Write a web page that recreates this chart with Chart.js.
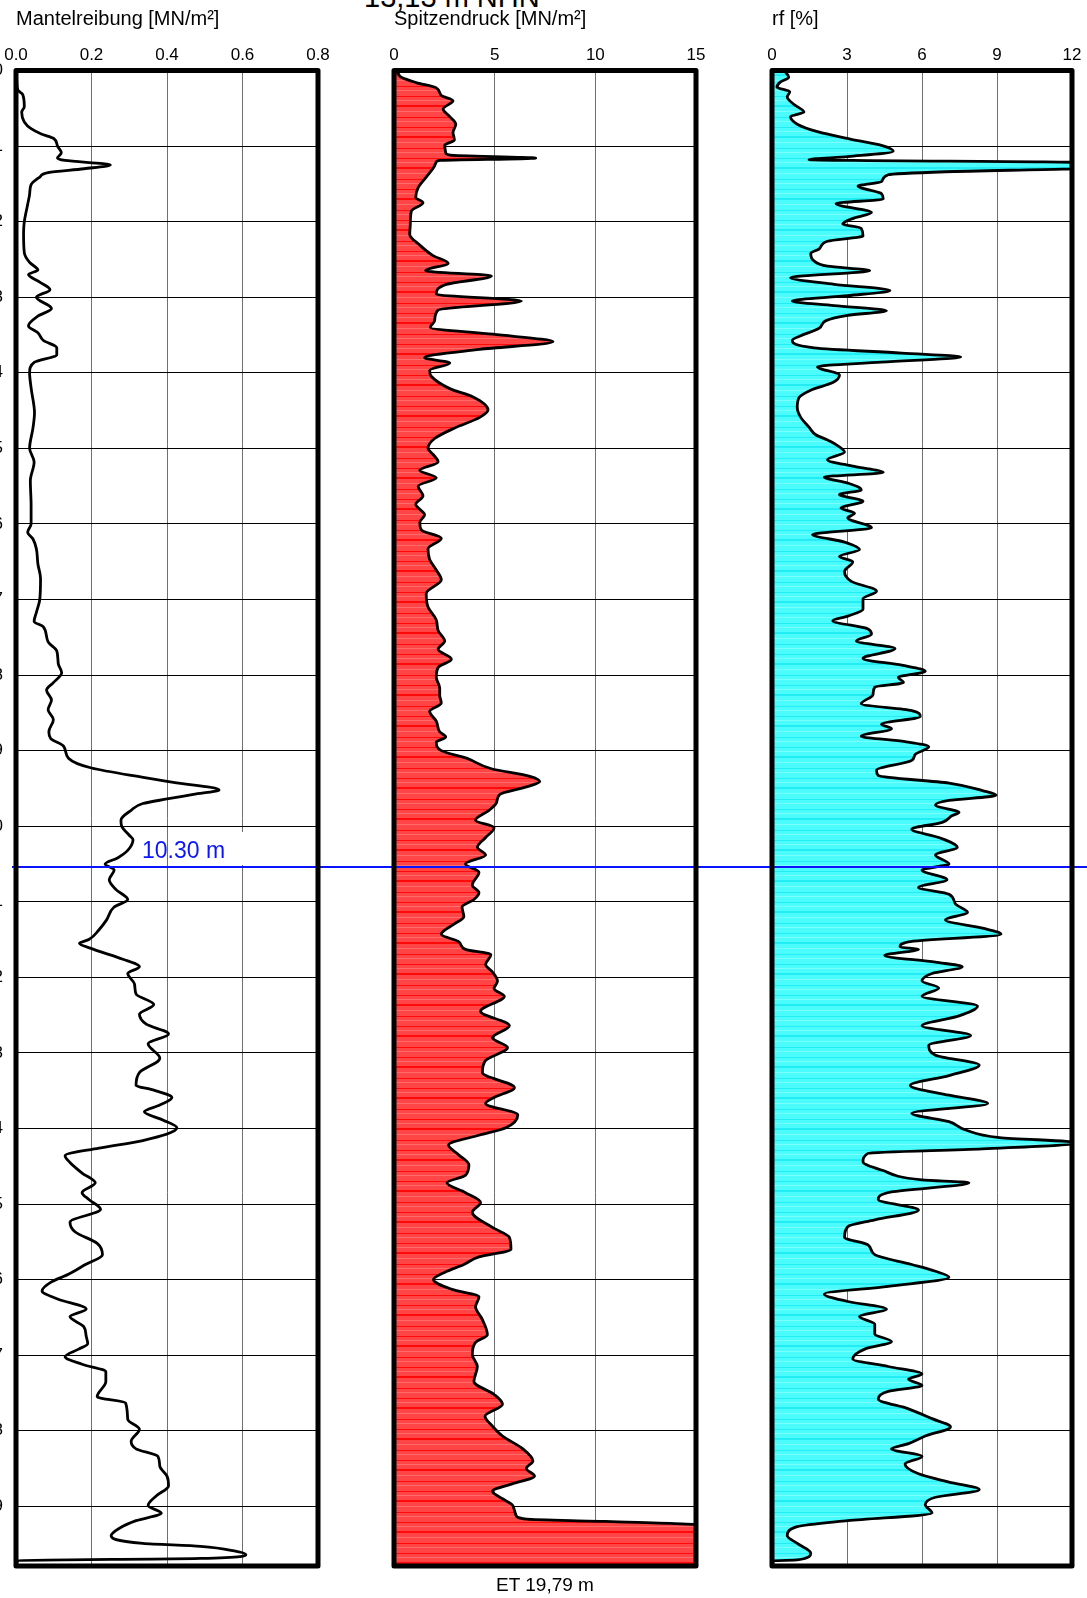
<!DOCTYPE html>
<html>
<head>
<meta charset="utf-8">
<title>Drucksondierung</title>
<script src="https://cdn.jsdelivr.net/npm/chart.js@4.4.1/dist/chart.umd.min.js"></script>
<style>
  body { margin: 0; background: #fff; width: 1087px; height: 1598px; overflow: hidden; position: relative;
         font-family: Arial, "Liberation Sans", sans-serif; }
  canvas { position: absolute; top: 0; }
  .head { position: absolute; left: 364px; top: -17px; font-size: 29px; line-height: 29px; white-space: nowrap; }
  .foot { position: absolute; left: 445px; width: 200px; top: 1574px; font-size: 19px; line-height: 22px; text-align: center; }
</style>
</head>
<body>
<div class="head">13,13 m NHN</div>
<canvas id="mantel" width="378" height="1598" style="left:-34px;width:378px;height:1598px"></canvas>
<canvas id="spitze" width="378" height="1598" style="left:344px;width:378px;height:1598px"></canvas>
<canvas id="rf" width="365" height="1598" style="left:722px;width:365px;height:1598px"></canvas>
<div class="foot">ET 19,79 m</div>

<script>
// Depth axis (m below top)
const maxDepth = 19.79;
const depthTicks = [0, 1, 2, 3, 4, 5, 6, 7, 8, 9, 10, 11, 12, 13, 14, 15, 16, 17, 18, 19];
const markerDepth = 10.54;
const markerLabel = '10.30 m';

// Mantelreibung [MN/m²]
const mantelTicks = [0, 0.2, 0.4, 0.6, 0.8];
const mantelDepth = [
  0, 0.15, 0.26, 0.32, 0.48, 0.55, 0.68, 0.77, 0.84, 0.9, 1.0, 1.09, 1.16, 1.19, 1.25, 1.3, 1.35, 1.41, 1.51, 1.64,
  1.77, 2.0, 2.15, 2.41, 2.54, 2.64, 2.7, 2.8, 2.9, 3.0, 3.15, 3.25, 3.38, 3.47, 3.57, 3.67, 3.76, 3.86, 4.0, 4.2,
  4.53, 4.73, 5.0, 5.18, 5.43, 5.75, 6.0, 6.11, 6.2, 6.33, 6.53, 6.72, 7.0, 7.17, 7.29, 7.36, 7.56, 7.68, 7.85, 7.97,
  8.1, 8.2, 8.33, 8.46, 8.59, 8.75, 8.84, 8.94, 9.1, 9.23, 9.36, 9.42, 9.52, 9.58, 9.64, 9.7, 9.79, 9.92, 10.0, 10.12,
  10.18, 10.32, 10.42, 10.5, 10.58, 10.71, 10.84, 10.97, 11.07, 11.24, 11.37, 11.5, 11.55, 11.63, 11.76, 11.86, 11.95, 12.09, 12.22, 12.36,
  12.49, 12.62, 12.75, 12.88, 13.07, 13.26, 13.43, 13.49, 13.59, 13.69, 13.78, 13.89, 13.99, 14.16, 14.26, 14.36, 14.45, 14.59, 14.72, 14.85,
  14.94, 15.07, 15.24, 15.37, 15.52, 15.67, 15.8, 15.93, 16.03, 16.15, 16.26, 16.39, 16.49, 16.62, 16.75, 16.85, 16.92, 17.02, 17.12, 17.22,
  17.35, 17.55, 17.63, 17.85, 17.98, 18.14, 18.24, 18.34, 18.47, 18.6, 18.73, 18.86, 18.99, 19.09, 19.19, 19.29, 19.39, 19.49, 19.53, 19.59,
  19.64, 19.69, 19.72, 19.79
];
const mantelValues = [
  0, 0.002, 0.005, 0.018, 0.022, 0.015, 0.022, 0.04, 0.067, 0.1, 0.11, 0.12, 0.11, 0.13, 0.25, 0.18, 0.085, 0.063, 0.04, 0.036,
  0.031, 0.022, 0.02, 0.022, 0.036, 0.058, 0.033, 0.063, 0.09, 0.054, 0.094, 0.058, 0.033, 0.058, 0.072, 0.108, 0.108, 0.049, 0.036, 0.04,
  0.049, 0.045, 0.036, 0.048, 0.038, 0.04, 0.04, 0.031, 0.045, 0.054, 0.058, 0.065, 0.063, 0.054, 0.048, 0.072, 0.085, 0.108, 0.112, 0.121,
  0.099, 0.081, 0.094, 0.085, 0.099, 0.087, 0.092, 0.126, 0.139, 0.2, 0.345, 0.417, 0.538, 0.47, 0.4, 0.336, 0.305, 0.278, 0.28, 0.3,
  0.31, 0.296, 0.269, 0.236, 0.26, 0.247, 0.265, 0.296, 0.26, 0.24, 0.22, 0.193, 0.168, 0.206, 0.283, 0.327, 0.296, 0.314, 0.318, 0.365,
  0.327, 0.345, 0.404, 0.35, 0.381, 0.327, 0.318, 0.363, 0.413, 0.381, 0.34, 0.39, 0.426, 0.336, 0.22, 0.13, 0.143, 0.175, 0.21, 0.175,
  0.193, 0.224, 0.143, 0.157, 0.215, 0.229, 0.184, 0.139, 0.094, 0.069, 0.112, 0.186, 0.143, 0.179, 0.186, 0.19, 0.166, 0.13, 0.175, 0.238,
  0.238, 0.215, 0.29, 0.296, 0.327, 0.305, 0.318, 0.376, 0.381, 0.4, 0.404, 0.372, 0.35, 0.385, 0.318, 0.274, 0.252, 0.336, 0.489, 0.578,
  0.609, 0.489, 0.005, 0
];

// Spitzendruck [MN/m²]
const spitzeTicks = [0, 5, 10, 15];
const spitzeDepth = [
  0, 0.02, 0.09, 0.16, 0.23, 0.33, 0.4, 0.51, 0.61, 0.71, 0.82, 0.92, 0.99, 1.09, 1.12, 1.16, 1.19, 1.21, 1.27, 1.41,
  1.55, 1.68, 1.75, 1.86, 2.03, 2.17, 2.31, 2.45, 2.55, 2.65, 2.72, 2.83, 2.96, 3.05, 3.17, 3.31, 3.4, 3.49, 3.59, 3.69,
  3.8, 3.87, 3.97, 4.05, 4.21, 4.32, 4.49, 4.59, 4.73, 4.87, 5.0, 5.08, 5.18, 5.29, 5.39, 5.5, 5.63, 5.74, 5.88, 5.98,
  6.08, 6.19, 6.33, 6.47, 6.61, 6.74, 6.92, 7.1, 7.27, 7.41, 7.55, 7.66, 7.79, 7.9, 8.03, 8.17, 8.27, 8.37, 8.48, 8.61,
  8.75, 8.82, 8.89, 9.0, 9.1, 9.24, 9.34, 9.41, 9.48, 9.58, 9.69, 9.79, 9.92, 10.02, 10.15, 10.28, 10.38, 10.5, 10.61, 10.78,
  10.88, 10.97, 11.07, 11.2, 11.3, 11.43, 11.53, 11.63, 11.7, 11.83, 11.93, 12.05, 12.15, 12.25, 12.45, 12.64, 12.8, 12.93, 13.1, 13.26,
  13.46, 13.59, 13.67, 13.82, 13.99, 14.09, 14.22, 14.35, 14.48, 14.62, 14.72, 14.85, 14.98, 15.11, 15.31, 15.44, 15.6, 15.7, 15.8, 15.9,
  16.0, 16.13, 16.23, 16.36, 16.53, 16.73, 16.83, 16.99, 17.15, 17.35, 17.52, 17.65, 17.81, 17.94, 18.07, 18.24, 18.4, 18.5, 18.6, 18.7,
  18.8, 18.9, 18.99, 19.12, 19.17, 19.2, 19.25, 19.79
];
const spitzeValues = [
  0, 0.15, 0.36, 1.1, 2.1, 2.35, 2.93, 2.44, 2.77, 3.07, 2.93, 3.0, 2.52, 2.57, 2.8, 7.04, 2.3, 2.1, 2.0, 1.6,
  1.2, 1.08, 1.44, 0.86, 0.81, 0.78, 1.28, 1.94, 2.69, 1.57, 4.84, 2.6, 2.1, 6.33, 2.19, 2.02, 1.8, 4.92, 7.9, 4.26,
  1.52, 2.77, 1.77, 1.86, 2.77, 3.93, 4.67, 4.26, 3.02, 2.02, 1.69, 1.94, 2.19, 1.28, 2.1, 1.2, 1.44, 1.08, 1.52, 1.28,
  1.36, 2.35, 1.69, 1.77, 2.1, 2.35, 1.6, 1.69, 2.1, 2.19, 2.52, 2.19, 2.85, 2.19, 2.1, 2.27, 2.27, 2.35, 1.77, 2.1,
  2.27, 2.57, 2.1, 2.35, 3.6, 4.84, 6.75, 7.24, 6.58, 5.25, 5.09, 4.72, 4.05, 4.97, 4.55, 4.14, 4.55, 3.55, 4.22, 3.89,
  4.22, 3.97, 3.38, 3.47, 2.96, 2.35, 3.22, 3.55, 4.81, 4.55, 4.89, 5.14, 4.97, 5.48, 4.3, 5.73, 4.89, 5.64, 4.55, 4.39,
  5.98, 4.97, 4.55, 6.15, 5.56, 4.22, 2.71, 3.22, 3.72, 3.55, 2.63, 3.55, 4.3, 3.89, 4.89, 5.73, 5.81, 4.22, 3.47, 2.55,
  1.96, 2.88, 4.22, 4.05, 4.39, 4.64, 4.05, 3.89, 4.14, 3.97, 4.97, 5.39, 4.52, 4.89, 5.39, 6.4, 6.9, 6.57, 6.98, 5.9,
  4.89, 5.39, 5.9, 6.06, 6.6, 10.5, 15.3, 15.3
];

// rf [%]
const rfTicks = [0, 3, 6, 9, 12];
const rfDepth = [
  0, 0.02, 0.09, 0.15, 0.22, 0.28, 0.35, 0.45, 0.55, 0.61, 0.71, 0.81, 0.91, 0.99, 1.07, 1.14, 1.18, 1.22, 1.29, 1.34,
  1.38, 1.47, 1.53, 1.63, 1.7, 1.76, 1.88, 1.95, 2.03, 2.09, 2.19, 2.26, 2.36, 2.42, 2.52, 2.59, 2.65, 2.74, 2.83, 2.91,
  2.98, 3.05, 3.11, 3.18, 3.24, 3.31, 3.41, 3.51, 3.57, 3.67, 3.74, 3.79, 3.86, 3.92, 4.03, 4.13, 4.23, 4.33, 4.46, 4.59,
  4.72, 4.82, 4.89, 4.95, 5.05, 5.15, 5.24, 5.32, 5.38, 5.46, 5.55, 5.61, 5.7, 5.79, 5.86, 5.92, 6.05, 6.14, 6.24, 6.34,
  6.43, 6.5, 6.63, 6.76, 6.89, 6.99, 7.13, 7.22, 7.28, 7.39, 7.46, 7.55, 7.65, 7.78, 7.87, 7.95, 8.03, 8.1, 8.16, 8.26,
  8.38, 8.47, 8.55, 8.65, 8.71, 8.81, 8.88, 8.95, 9.05, 9.13, 9.26, 9.33, 9.43, 9.53, 9.59, 9.66, 9.72, 9.82, 9.86, 9.95,
  10.04, 10.15, 10.28, 10.38, 10.5, 10.58, 10.71, 10.81, 10.9, 11.03, 11.14, 11.24, 11.35, 11.43, 11.53, 11.6, 11.63, 11.71, 11.8, 11.86,
  11.95, 12.05, 12.14, 12.25, 12.38, 12.51, 12.64, 12.77, 12.9, 13.03, 13.16, 13.3, 13.43, 13.56, 13.67, 13.8, 13.91, 14.02, 14.12, 14.19,
  14.27, 14.33, 14.44, 14.55, 14.68, 14.72, 14.84, 14.94, 15.08, 15.21, 15.3, 15.44, 15.54, 15.67, 15.8, 15.89, 15.97, 16.09, 16.19, 16.29,
  16.39, 16.49, 16.59, 16.72, 16.82, 16.92, 17.05, 17.15, 17.25, 17.32, 17.4, 17.48, 17.58, 17.71, 17.84, 17.95, 18.07, 18.17, 18.24, 18.34,
  18.44, 18.57, 18.68, 18.78, 18.88, 18.98, 19.09, 19.19, 19.27, 19.39, 19.49, 19.62, 19.71, 19.72, 19.79
];
const rfValues = [
  0.5, 0.54, 0.67, 0.34, 0.2, 0.71, 0.61, 0.88, 1.28, 0.74, 1.01, 1.82, 3.17, 4.38, 4.85, 3.03, 1.48, 12.6, 12.6, 6.94,
  4.65, 4.38, 3.44, 4.38, 4.45, 2.56, 3.98, 3.3, 2.83, 3.57, 3.64, 2.22, 1.89, 1.55, 1.68, 2.22, 3.91, 0.74, 2.49, 4.72,
  3.03, 0.81, 2.49, 4.58, 3.03, 2.16, 1.89, 1.15, 0.81, 1.68, 5.19, 7.55, 4.38, 1.82, 2.7, 2.43, 1.55, 1.08, 1.01, 1.15,
  1.48, 1.75, 2.22, 2.56, 2.9, 2.22, 3.3, 4.45, 2.09, 3.03, 3.57, 2.7, 3.64, 2.76, 3.3, 3.03, 3.98, 1.62, 2.9, 3.5,
  2.7, 3.23, 2.9, 3.17, 4.18, 3.64, 3.64, 3.03, 2.43, 3.84, 3.98, 3.37, 4.92, 3.64, 5.19, 6.13, 5.05, 5.26, 4.11, 4.04,
  3.57, 5.59, 5.93, 4.38, 4.78, 3.57, 5.32, 6.27, 5.73, 5.59, 4.18, 4.25, 7.08, 8.42, 8.96, 7.08, 6.54, 7.48, 7.21, 6.81,
  5.59, 6.67, 7.41, 6.54, 7.08, 6.0, 7.0, 5.86, 7.08, 7.34, 7.82, 6.94, 8.42, 9.16, 5.46, 5.12, 5.86, 4.51, 6.54, 7.61,
  6.4, 6.0, 6.67, 6.0, 8.22, 7.48, 6.0, 7.95, 6.27, 6.54, 8.29, 7.08, 5.53, 7.08, 8.63, 5.59, 7.08, 7.75, 9.1, 12.3,
  8.42, 3.84, 3.64, 4.38, 6.0, 7.88, 4.78, 4.25, 5.86, 4.11, 3.03, 2.9, 3.84, 4.11, 5.59, 6.54, 7.08, 4.65, 2.09, 3.03,
  4.58, 3.5, 4.11, 4.11, 4.78, 3.71, 3.23, 4.65, 6.0, 5.46, 6.0, 4.65, 4.25, 5.46, 6.4, 7.14, 6.13, 5.46, 4.78, 6.0,
  5.32, 5.86, 7.08, 8.29, 6.54, 6.13, 6.4, 3.03, 1.01, 0.61, 1.01, 1.55, 1.01, 0.07, 0
];

const FONT = 'Arial, "Liberation Sans", sans-serif';
Chart.defaults.font.family = FONT;
Chart.defaults.color = '#000';

// streaky fill like the plotter hatching
function stripes(base, dark, light) {
  const c = document.createElement('canvas');
  c.width = 4; c.height = 31;
  const g = c.getContext('2d');
  g.fillStyle = base; g.fillRect(0, 0, 4, 31);
  g.fillStyle = dark; [3, 12, 13, 24].forEach(r => g.fillRect(0, r, 4, 1));
  g.fillStyle = light; [7, 18, 28].forEach(r => g.fillRect(0, r, 4, 1));
  return g.createPattern(c, 'repeat');
}

const framePlugin = {
  id: 'frame',
  afterDraw(chart) {
    const { ctx, chartArea: a } = chart;
    ctx.save();
    ctx.strokeStyle = '#000';
    ctx.lineWidth = 5;
    ctx.lineJoin = 'round';
    ctx.strokeRect(a.left, a.top, a.right - a.left, a.bottom - a.top);
    ctx.restore();
  }
};

const markerPlugin = {
  id: 'marker',
  beforeDatasetsDraw(chart, args, opts) {
    if (!opts.label) return;
    const y = chart.scales.y.getPixelForValue(markerDepth);
    const ctx = chart.ctx;
    ctx.save();
    ctx.fillStyle = '#fff';
    ctx.fillRect(267, y - 35, 80, 33);
    ctx.restore();
  },
  afterDraw(chart, args, opts) {
    const y = chart.scales.y.getPixelForValue(markerDepth);
    const ctx = chart.ctx;
    ctx.save();
    ctx.strokeStyle = '#0a14ff';
    ctx.lineWidth = 2;
    ctx.beginPath();
    ctx.moveTo(opts.startX || 0, y);
    ctx.lineTo(chart.width, y);
    ctx.stroke();
    if (opts.label) {
      ctx.fillStyle = '#0a14ff';
      ctx.font = '23px ' + FONT;
      ctx.textBaseline = 'alphabetic';
      ctx.fillText(opts.label, 176, y - 9);
    }
    ctx.restore();
  }
};

function renderLog(id, cfg) {
  const data = cfg.depth.map((d, i) => ({ x: cfg.values[i], y: d }));
  return new Chart(document.getElementById(id), {
    type: 'line',
    data: {
      datasets: [{
        data,
        borderColor: '#000',
        borderWidth: 2.8,
        pointRadius: 0,
        cubicInterpolationMode: 'monotone',
        fill: cfg.fillColor ? 'origin' : false,
        backgroundColor: cfg.fillColor || 'transparent'
      }]
    },
    options: {
      indexAxis: 'y',
      responsive: false,
      animation: false,
      events: [],
      layout: { padding: { left: 0, right: cfg.padRight, top: 0, bottom: 32 } },
      plugins: {
        legend: { display: false },
        tooltip: { enabled: false },
        marker: { startX: cfg.markerStart, label: cfg.markerLabel }
      },
      scales: {
        x: {
          type: 'linear',
          position: 'top',
          min: cfg.ticks[0],
          max: cfg.ticks[cfg.ticks.length - 1],
          afterBuildTicks: s => { s.ticks = cfg.ticks.map(v => ({ value: v })); },
          afterFit: s => { s.height = 70.5; },
          border: { display: false },
          grid: { color: '#6f6f6f', lineWidth: 1, drawTicks: false },
          ticks: { font: { size: 17 }, padding: 5, maxRotation: 0, callback: cfg.format },
          title: { display: true, text: cfg.title, align: 'start', font: { size: 20 }, padding: { top: 7, bottom: 0 } }
        },
        y: {
          type: 'linear',
          reverse: true,
          min: 0,
          max: maxDepth,
          afterBuildTicks: s => { s.ticks = depthTicks.map(v => ({ value: v })); },
          afterFit: s => { s.width = 50; },
          border: { display: false },
          grid: { color: '#000', lineWidth: 1, drawTicks: false },
          ticks: { display: cfg.showDepth, font: { size: 17 }, padding: 13 }
        }
      }
    },
    plugins: [markerPlugin, framePlugin]
  });
}

renderLog('mantel', {
  title: 'Mantelreibung [MN/m²]',
  depth: mantelDepth, values: mantelValues, ticks: mantelTicks,
  format: v => v.toFixed(1),
  padRight: 26, showDepth: true,
  markerStart: 46, markerLabel: markerLabel
});

renderLog('spitze', {
  title: 'Spitzendruck [MN/m²]',
  depth: spitzeDepth, values: spitzeValues, ticks: spitzeTicks,
  format: v => String(v),
  padRight: 26, showDepth: false,
  fillColor: stripes('#ff4545', '#ff0a0a', '#ff6a6a'),
  markerStart: 0
});

renderLog('rf', {
  title: 'rf [%]',
  depth: rfDepth, values: rfValues, ticks: rfTicks,
  format: v => String(v),
  padRight: 15, showDepth: false,
  fillColor: stripes('#4cfcfc', '#22ecf4', '#7affff'),
  markerStart: 0
});
</script>
</body>
</html>
